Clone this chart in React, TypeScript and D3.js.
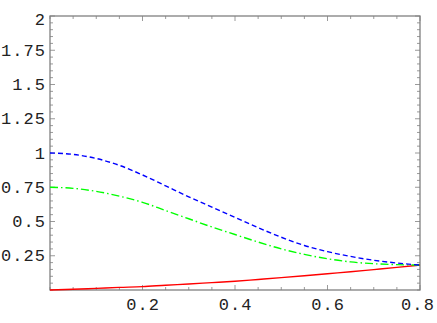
import React, { useEffect, useRef } from 'react';
import * as d3 from 'd3';

// sample positions along x, and the three curves
const xs = [0, 0.05, 0.1, 0.15, 0.2, 0.25, 0.3, 0.35, 0.4, 0.45, 0.5, 0.55, 0.6, 0.65, 0.7, 0.75, 0.8];
const blueVals = [1.0, 0.99, 0.96, 0.91, 0.84, 0.76, 0.68, 0.605, 0.53, 0.455, 0.385, 0.325, 0.28, 0.245, 0.217, 0.197, 0.182];
const greenVals = [0.75, 0.742, 0.72, 0.685, 0.64, 0.58, 0.52, 0.46, 0.405, 0.35, 0.3, 0.26, 0.228, 0.205, 0.192, 0.185, 0.182];
const redVals = [0, 0.005, 0.012, 0.019, 0.025, 0.035, 0.044, 0.054, 0.064, 0.077, 0.09, 0.104, 0.119, 0.133, 0.149, 0.165, 0.182];

const xTickLabels = ['0.2', '0.4', '0.6', '0.8'];
const yTickLabels = ['0.25', '0.5', '0.75', '1', '1.25', '1.5', '1.75', '2'];

const App = () => {
  const svgRef = useRef<SVGSVGElement>(null);

  useEffect(() => {
    const left = 50, right = 420, top = 16, bottom = 290;

    const svg = d3.select(svgRef.current);
    svg.selectAll('*').remove();

    const x = d3.scaleLinear().domain([0, 0.8]).range([left, right]);
    const y = d3.scaleLinear().domain([0, 2]).range([bottom, top]);

    svg.append('defs').append('clipPath').attr('id', 'plotclip')
      .append('rect')
      .attr('x', left).attr('y', top - 1)
      .attr('width', right - left).attr('height', bottom - top + 2);

    const frameColor = '#808080';
    const g = svg.append('g');

    // minor / major ticks on all four sides of the frame
    const xMinor = d3.range(0, 0.8001, 0.05);
    const xMajor = xTickLabels.map(Number);
    xMinor.forEach(v => {
      const isMajor = xMajor.some(m => Math.abs(m - v) < 1e-6);
      const len = isMajor ? 5 : 3;
      g.append('line').attr('x1', x(v)).attr('x2', x(v))
        .attr('y1', bottom).attr('y2', bottom - len)
        .attr('stroke', frameColor).attr('stroke-width', 0.8);
      g.append('line').attr('x1', x(v)).attr('x2', x(v))
        .attr('y1', top).attr('y2', top + len)
        .attr('stroke', frameColor).attr('stroke-width', 0.8);
    });

    const yMinor = d3.range(0, 2.0001, 0.05);
    const yMajor = yTickLabels.map(Number);
    yMinor.forEach(v => {
      const isMajor = yMajor.some(m => Math.abs(m - v) < 1e-6);
      const len = isMajor ? 5 : 3;
      g.append('line').attr('x1', left).attr('x2', left + len)
        .attr('y1', y(v)).attr('y2', y(v))
        .attr('stroke', frameColor).attr('stroke-width', 0.8);
      g.append('line').attr('x1', right).attr('x2', right - len)
        .attr('y1', y(v)).attr('y2', y(v))
        .attr('stroke', frameColor).attr('stroke-width', 0.8);
    });

    // frame
    g.append('rect')
      .attr('x', left).attr('y', top)
      .attr('width', right - left).attr('height', bottom - top)
      .attr('fill', 'none').attr('stroke', frameColor).attr('stroke-width', 1.3);

    // tick labels (Courier-like, spaced out)
    const font = '"Liberation Mono", "Courier New", monospace';
    xTickLabels.forEach(t => {
      g.append('text')
        .attr('x', Math.min(x(Number(t)) + 0.6, 418))
        .attr('y', 310)
        .attr('text-anchor', 'middle')
        .attr('font-family', font)
        .attr('font-size', 17)
        .attr('letter-spacing', 1.1)
        .attr('fill', '#222')
        .text(t);
    });
    yTickLabels.forEach(t => {
      g.append('text')
        .attr('x', 46.1)
        .attr('y', Math.max(y(Number(t)), 19.5))
        .attr('dy', '0.33em')
        .attr('text-anchor', 'end')
        .attr('font-family', font)
        .attr('font-size', 17)
        .attr('letter-spacing', 1.1)
        .attr('fill', '#222')
        .text(t);
    });

    const line = d3.line<number>()
      .x((d, i) => x(xs[i]))
      .y(d => y(d))
      .curve(d3.curveMonotoneX);

    const curves = svg.append('g').attr('clip-path', 'url(#plotclip)');

    curves.append('path')
      .datum(redVals)
      .attr('fill', 'none')
      .attr('stroke', '#ff0000')
      .attr('stroke-width', 1.4)
      .attr('d', line);

    curves.append('path')
      .datum(greenVals)
      .attr('fill', 'none')
      .attr('stroke', '#00ff00')
      .attr('stroke-width', 1.4)
      .attr('stroke-dasharray', '8,3,1.5,3')
      .attr('d', line);

    curves.append('path')
      .datum(blueVals)
      .attr('fill', 'none')
      .attr('stroke', '#0000ff')
      .attr('stroke-width', 1.4)
      .attr('stroke-dasharray', '5,3')
      .attr('d', line);
  }, []);

  return (
    <svg
      ref={svgRef}
      width={437}
      height={323}
      style={{ position: 'absolute', left: 0, top: 0, background: '#fff' }}
    ></svg>
  );
};

export default App;
